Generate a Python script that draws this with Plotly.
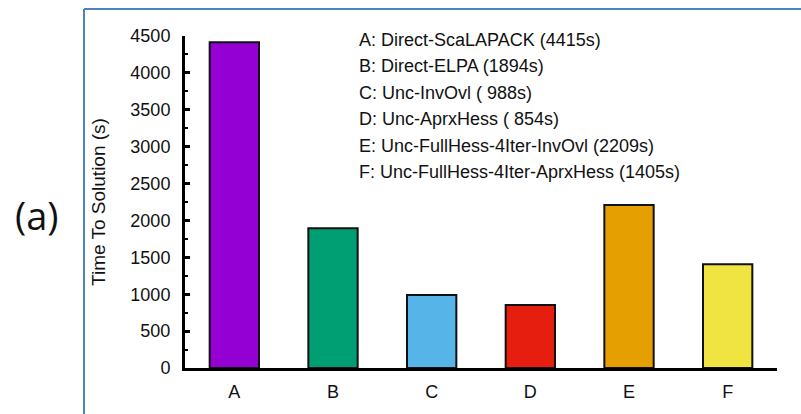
import plotly.graph_objects as go

categories = ["A", "B", "C", "D", "E", "F"]
methods = [
    "Direct-ScaLAPACK",
    "Direct-ELPA",
    "Unc-InvOvl",
    "Unc-AprxHess",
    "Unc-FullHess-4Iter-InvOvl",
    "Unc-FullHess-4Iter-AprxHess",
]
times = [4415, 1894, 988, 854, 2209, 1405]
time_labels = ["4415s", "1894s", " 988s", " 854s", "2209s", "1405s"]
colors = ["#9400D3", "#009E73", "#56B4E9", "#E51E10", "#E69F00", "#F0E442"]
y_ticks = [0, 500, 1000, 1500, 2000, 2500, 3000, 3500, 4000, 4500]

W, H = 801, 414
L, R, T, B = 185, 24, 36, 46
pw, ph = W - L - R, H - T - B

fig = go.Figure(
    go.Bar(
        x=categories,
        y=times,
        width=0.5,
        marker=dict(color=colors, line=dict(color="#111111", width=2)),
        showlegend=False,
    )
)

font_main = "Liberation Sans, Arial, sans-serif"

fig.update_layout(
    width=W,
    height=H,
    margin=dict(l=L, r=R, t=T, b=B, pad=0),
    paper_bgcolor="white",
    plot_bgcolor="white",
    font=dict(family=font_main, size=18, color="#111111"),
    xaxis=dict(
        range=[-0.5, 5.5],
        showline=True,
        linecolor="black",
        linewidth=3,
        ticks="",
        ticklabelstandoff=5,
        showgrid=False,
        zeroline=False,
        tickfont=dict(size=18),
    ),
    yaxis=dict(
        range=[0, 4500],
        tickvals=y_ticks,
        showline=True,
        linecolor="black",
        linewidth=3,
        ticks="inside",
        ticklen=5,
        tickwidth=2.5,
        tickcolor="black",
        minor=dict(ticks="inside", dtick=250, ticklen=3, tickwidth=2, tickcolor="black"),
        ticklabelstandoff=8,
        showgrid=False,
        zeroline=False,
        tickfont=dict(size=18),
        title=dict(text="Time To Solution (s)", font=dict(size=19), standoff=20),
    ),
)

# legend text block listing each method with its run time
for i, (c, m, t) in enumerate(zip(categories, methods, time_labels)):
    fig.add_annotation(
        xref="paper",
        yref="paper",
        x=(357 - L) / pw,
        y=(H - B - (40 + i * 26.4)) / ph,
        xanchor="left",
        yanchor="middle",
        text=f"{c}: {m} ({t})",
        showarrow=False,
        font=dict(size=18, family=font_main, color="#111111"),
    )

# panel label
fig.add_annotation(
    xref="paper",
    yref="paper",
    x=(37 - L) / pw,
    y=(H - B - 215) / ph,
    xanchor="center",
    yanchor="middle",
    text="(a)",
    showarrow=False,
    font=dict(size=38, family="Open Sans, Noto Sans, sans-serif", color="#111111"),
)

# blue frame along the top and left edges
bx0 = (84 - L) / pw
by0 = (H - B - 9) / ph
bx1 = (W + 5 - L) / pw
by1 = (H - B - (H + 5)) / ph
border = dict(color="#4F81BD", width=2)
fig.add_shape(type="line", xref="paper", yref="paper", x0=bx0, y0=by0, x1=bx1, y1=by0, line=border)
fig.add_shape(type="line", xref="paper", yref="paper", x0=bx0, y0=by0, x1=bx0, y1=by1, line=border)

fig.write_html("out.html")
